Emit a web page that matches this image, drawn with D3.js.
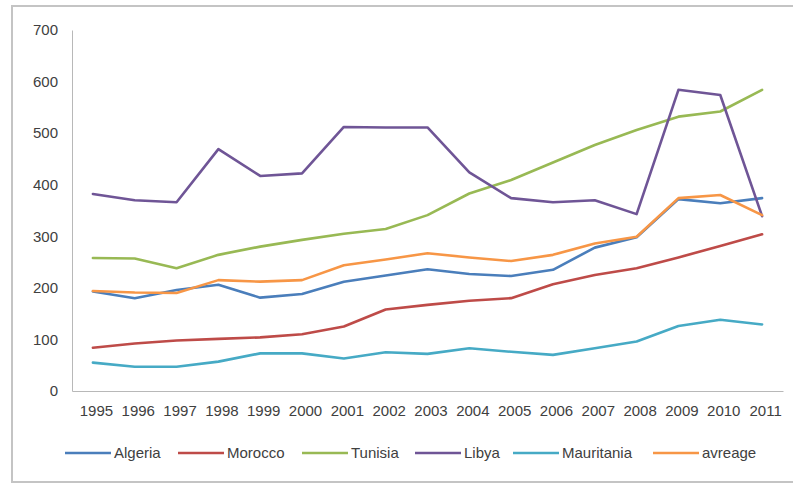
<!DOCTYPE html>
<html>
<head>
<meta charset="utf-8">
<script src="https://cdn.jsdelivr.net/npm/d3@7"></script>
<style>
  html, body { margin: 0; padding: 0; background: #fff; }
  svg { display: block; }
  text { font-family: "Liberation Sans", Arial, sans-serif; }
</style>
</head>
<body>
<svg id="chart" width="793" height="485"></svg>
<script>
const years = ["1995","1996","1997","1998","1999","2000","2001","2002","2003","2004","2005","2006","2007","2008","2009","2010","2011"];
const yTicks = [0, 100, 200, 300, 400, 500, 600, 700];

const algeria    = [193, 180, 196, 206, 181, 188, 212, 224, 236, 227, 223, 235, 278, 298, 372, 364, 374];
const morocco    = [84, 92, 98, 101, 104, 110, 125, 158, 167, 175, 180, 207, 225, 238, 259, 281, 304];
const tunisia    = [258, 257, 238, 264, 280, 293, 305, 314, 341, 383, 409, 443, 477, 506, 532, 542, 584];
const libya      = [382, 370, 366, 469, 417, 422, 512, 511, 511, 424, 374, 366, 370, 343, 584, 574, 339];
const mauritania = [55, 47, 47, 57, 73, 73, 63, 75, 72, 83, 76, 70, 83, 96, 126, 138, 129];
const avreage    = [194, 191, 190, 215, 212, 215, 244, 255, 267, 259, 252, 264, 286, 299, 374, 380, 341];

const seriesNames = ["Algeria", "Morocco", "Tunisia", "Libya", "Mauritania", "avreage"];
const seriesValues = [algeria, morocco, tunisia, libya, mauritania, avreage];
const colors = ["#4a7ebb", "#be4b48", "#98b954", "#6f5596", "#46aac5", "#f79646"];

const svg = d3.select("#chart");

// outer frame (right edge lies outside the picture)
svg.append("rect")
  .attr("x", 12).attr("y", 6).attr("width", 800).attr("height", 476)
  .attr("fill", "none").attr("stroke", "#c4c4c4").attr("stroke-width", 2);

const x = d3.scalePoint().domain(years).range([72, 783]).padding(0.5);
const y = d3.scaleLinear().domain([0, 700]).range([391, 30]);

// y axis
const yAxis = svg.append("g").attr("transform", "translate(72,0)")
  .call(d3.axisLeft(y).tickValues(yTicks).tickSize(0).tickPadding(14));
yAxis.select(".domain").attr("stroke", "#b8b8b8").attr("stroke-width", 1);
yAxis.selectAll("text").attr("font-size", 15).attr("fill", "#404040")
  .style("font-family", "'Liberation Sans', Arial, sans-serif");

// x axis
const xAxis = svg.append("g").attr("transform", "translate(0,391)")
  .call(d3.axisBottom(x).tickSize(0).tickPadding(14));
xAxis.select(".domain").attr("stroke", "#b8b8b8").attr("stroke-width", 1);
xAxis.selectAll("text").attr("font-size", 15).attr("fill", "#404040")
  .attr("dx", 3)
  .style("font-family", "'Liberation Sans', Arial, sans-serif");

// lines
const line = d3.line().x((d, i) => x(years[i])).y(d => y(d));
seriesValues.forEach((vals, k) => {
  svg.append("path")
    .datum(vals)
    .attr("d", line)
    .attr("fill", "none")
    .attr("stroke", colors[k])
    .attr("stroke-width", 2.6)
    .attr("stroke-linejoin", "round")
    .attr("stroke-linecap", "round");
});

// legend
const legendX = [65, 178, 302, 415, 513, 653];
const legendY = 453;
const legend = svg.append("g");
seriesNames.forEach((name, k) => {
  const g = legend.append("g").attr("transform", `translate(${legendX[k]},${legendY})`);
  g.append("line").attr("x1", 0).attr("x2", 46).attr("y1", 0).attr("y2", 0)
    .attr("stroke", colors[k]).attr("stroke-width", 2.6);
  g.append("text").attr("x", 49).attr("y", 0).attr("dy", "0.35em")
    .attr("font-size", 15).attr("fill", "#404040").text(name);
});
</script>
</body>
</html>
